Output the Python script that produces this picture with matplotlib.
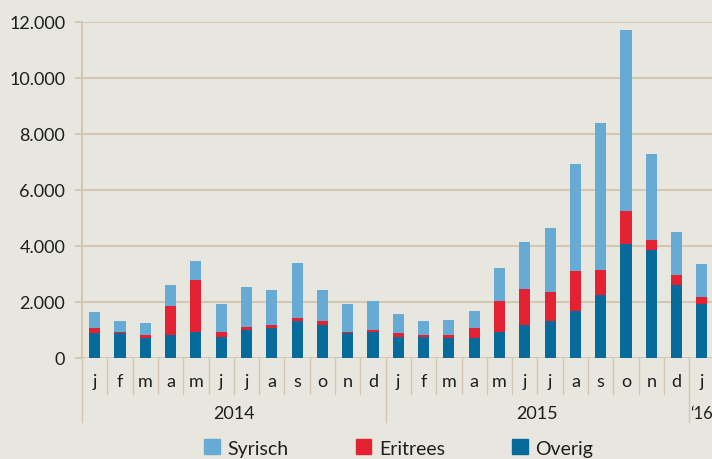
import matplotlib
matplotlib.use("Agg")
import matplotlib.pyplot as plt
import matplotlib.patches as mpatches
import matplotlib.transforms as mtransforms
import numpy as np

months = ["j", "f", "m", "a", "m", "j", "j", "a", "s", "o", "n", "d",
          "j", "f", "m", "a", "m", "j", "j", "a", "s", "o", "n", "d", "j"]
years = ["2014", "2015", "\u201816"]
year_starts = [0, 12, 24]
year_ends = [12, 24, 25]

overig = [880, 880, 700, 820, 940, 760, 1000, 1060, 1310, 1180, 880, 940,
          760, 760, 700, 700, 940, 1190, 1310, 1680, 2240, 4080, 3850, 2620, 1930]
eritrees = [180, 60, 120, 1050, 1850, 180, 120, 120, 120, 130, 60, 60,
            120, 60, 120, 360, 1110, 1290, 1050, 1420, 910, 1180, 360, 360, 250]
syrisch = [570, 370, 430, 740, 670, 990, 1430, 1250, 1970, 1120, 990, 1050,
           680, 490, 550, 620, 1180, 1660, 2280, 3820, 5240, 6450, 3080, 1530, 1170]

yticks = [0, 2000, 4000, 6000, 8000, 10000, 12000]
ytick_labels = ["0", "2.000", "4.000", "6.000", "8.000", "10.000", "12.000"]

c_syr = "#67abd4"
c_eri = "#e32233"
c_ove = "#066a9a"
bg = "#e8e7df"
grid_c = "#d3c7b0"
txt_c = "#1e1e1e"

plt.rcParams["font.family"] = ["Lato", "DejaVu Sans"]

fig = plt.figure(figsize=(7.12, 4.6), dpi=100, facecolor=bg)
ax = fig.add_axes([0.1152, 0.2196, 0.8848, 0.7304])
ax.set_facecolor(bg)

x = np.arange(len(months))
w = 0.44
ov = np.array(overig)
er = np.array(eritrees)
sy = np.array(syrisch)
ax.bar(x, ov, w, color=c_ove, linewidth=0, zorder=3)
ax.bar(x, er, w, bottom=ov, color=c_eri, linewidth=0, zorder=3)
ax.bar(x, sy, w, bottom=ov + er, color=c_syr, linewidth=0, zorder=3)

ax.set_xlim(-0.5, 24.4)
ax.set_ylim(0, 12000)
ax.set_yticks(yticks)
ax.set_yticklabels(ytick_labels, fontsize=13, color=txt_c)
ax.yaxis.grid(True, color=grid_c, linewidth=1.4, zorder=0)
ax.tick_params(axis="y", length=5, width=1.4, color=grid_c, pad=7)
ax.set_xticks([])
for s in ["top", "right", "bottom"]:
    ax.spines[s].set_visible(False)
ax.spines["left"].set_color(grid_c)
ax.spines["left"].set_linewidth(1.4)

trans = mtransforms.blended_transform_factory(ax.transData, ax.transAxes)
# month separators and labels
for i in range(len(months) + 1):
    b = i - 0.5
    if b > 24.4:
        continue
    bottom = -0.19 if (i in year_starts) else -0.107
    ax.plot([b, b], [0, bottom], transform=trans, color=grid_c,
            linewidth=1.0, clip_on=False, zorder=1)
for i, m in enumerate(months):
    ax.text(i, -0.068, m, transform=trans, ha="center", va="center",
            fontsize=13, color=txt_c)
for lab, s, e in zip(years, year_starts, year_ends):
    if e - s > 1:
        ax.text((s + e - 1) / 2, -0.165, lab, transform=trans, ha="center",
                va="center", fontsize=13, color=txt_c)
    else:
        ax.text(s - 0.47, -0.165, lab, transform=trans, ha="left",
                va="center", fontsize=12, color=txt_c)

handles = [mpatches.Patch(color=c_syr, label="Syrisch"),
           mpatches.Patch(color=c_eri, label="Eritrees"),
           mpatches.Patch(color=c_ove, label="Overig")]
fig.legend(handles=handles, loc="center", bbox_to_anchor=(0.56, 0.024),
           ncol=3, frameon=False, fontsize=14, handlelength=0.8,
           handleheight=0.8, handletextpad=0.4, columnspacing=3.45,
           labelcolor=txt_c)

fig.savefig("out.png", dpi=100, facecolor=bg)
